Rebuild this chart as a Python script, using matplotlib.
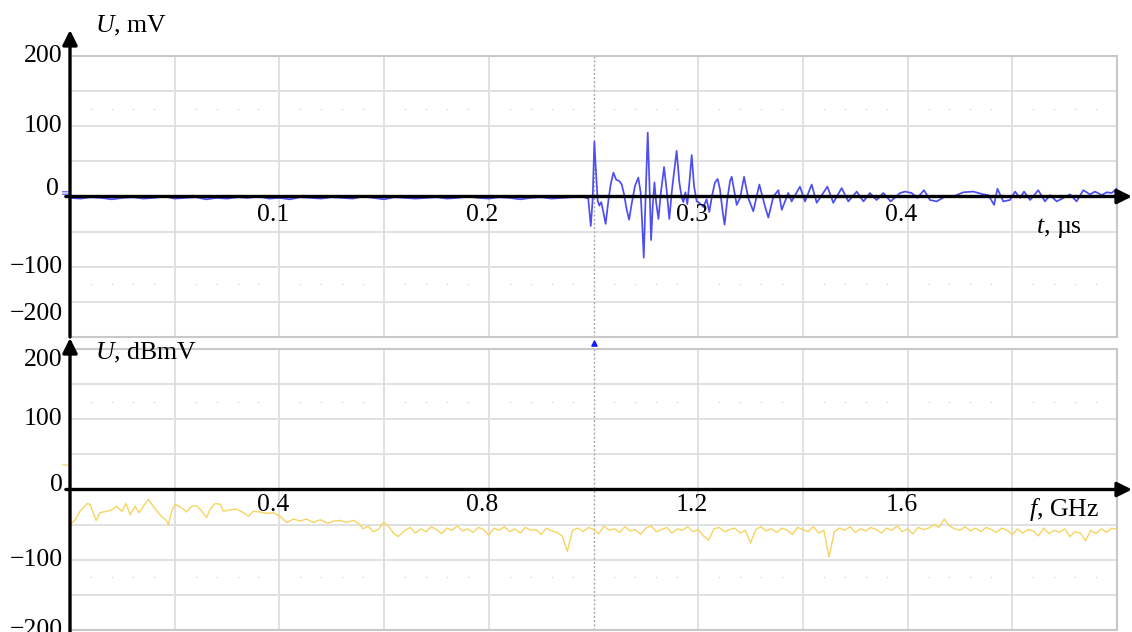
import numpy as np
import matplotlib.pyplot as plt

plt.rcParams['font.family'] = ['Liberation Serif', 'DejaVu Serif']
plt.rcParams['mathtext.fontset'] = 'custom'
plt.rcParams['mathtext.rm'] = 'Liberation Serif'
plt.rcParams['mathtext.it'] = 'Liberation Serif:italic'

# ---- time-domain signal (t in us, U in mV) ----
t_base = np.arange(0, 0.2435, 0.005)
u_base = [-2, -3, -1, -2, -4, -2, -1, -3, -2, 0, -3, -2, -1, -4, -2, -3, -1, -2, 0, -3,
          -2, -4, -1, -2, -3, -1, -2, -3, 0, -2, -4, -1, -2, -3, -2, -1, -3, -2, 0, -2,
          -3, -1, -2, -4, -2, -1, -3, -2, -1]
t_burst = [0.2436, 0.2475, 0.2487, 0.2496, 0.2504, 0.2512, 0.2520, 0.2528, 0.2537, 0.2547,
           0.2558, 0.2571, 0.2582, 0.2595, 0.2608, 0.2623, 0.2635, 0.2646, 0.2658, 0.2670,
           0.2682, 0.2698, 0.2714, 0.2725, 0.2733, 0.2740, 0.2748, 0.2759, 0.2767, 0.2775,
           0.2783, 0.2791, 0.2799, 0.2810, 0.2822, 0.2837, 0.2849, 0.2862, 0.2875, 0.2897,
           0.2910, 0.2921, 0.2929, 0.2939, 0.2948, 0.2958, 0.2969, 0.2980, 0.2993, 0.3005,
           0.3025, 0.3040, 0.3053, 0.3066, 0.3080, 0.3093, 0.3104, 0.3117, 0.3126, 0.3139,
           0.3152]
u_burst = [1, -3, -42, -4, 78, 34, -6, -13, -8, -22,
           -39, -6, 17, 34, 24, 22, 17, 3, -18, -33,
           -11, 15, 27, 6, -41, -87, -8, 91, 20, -62,
           -13, 20, -8, -32, 6, 42, 10, -32, 10, 65,
           20, -1, -8, 6, -11, 20, 59, 15, -7, -9,
           -15, -4, -22, 1, 20, 25, 10, -22, -40, -4,
           22]
t_tail = [0.3160, 0.3184, 0.3200, 0.3219, 0.3239, 0.3263, 0.3292, 0.3319, 0.3335, 0.3359,
          0.3383, 0.3399, 0.3430, 0.3446, 0.3486, 0.3510, 0.3542, 0.3566, 0.3617, 0.3645,
          0.3685, 0.3717, 0.3757, 0.3789, 0.3820, 0.3852, 0.3884, 0.3919, 0.3964, 0.3988,
          0.4019, 0.4047, 0.4078, 0.4107, 0.4139, 0.4179, 0.4218, 0.4266, 0.4314, 0.4362,
          0.4386, 0.4413, 0.4429, 0.4457, 0.4489, 0.4513, 0.4537, 0.4556, 0.4585, 0.4624,
          0.4656, 0.4680, 0.4712, 0.4744, 0.4776, 0.4807, 0.4839, 0.4871, 0.4895, 0.4927,
          0.4951, 0.4975, 0.4998]
u_tail = [28, -12, -2, 28, -2, -21, 17, -14, -30, 0,
          9, -19, 5, -7, 14, -7, 17, -9, 14, -9,
          12, -7, 7, -7, 5, -5, 5, -7, 5, 7,
          5, -2, 9, -5, -7, 0, 0, 6, 7, 3,
          2, -12, 11, -7, -5, 7, -2, 7, -5, 9,
          -7, 2, -7, -2, 3, -7, 9, 3, 7, 2,
          6, 5, 11]
t_sig = np.concatenate([t_base, t_burst, t_tail])
u_sig = np.concatenate([u_base, u_burst, u_tail])

# ---- spectrum (f in GHz, U in dBmV) ----
f_low = [0.003, 0.010, 0.019, 0.033, 0.038, 0.050, 0.057, 0.070, 0.080, 0.089,
         0.099, 0.107, 0.115, 0.124, 0.132, 0.140, 0.150, 0.159, 0.172, 0.185,
         0.188, 0.194, 0.201, 0.213, 0.223, 0.232, 0.242, 0.252, 0.261, 0.267,
         0.277, 0.287, 0.293, 0.306, 0.318, 0.331, 0.341, 0.350, 0.363, 0.376,
         0.388, 0.401, 0.414, 0.427, 0.439, 0.452, 0.465, 0.478, 0.493, 0.503,
         0.516, 0.528, 0.541, 0.551, 0.560, 0.570, 0.579, 0.589, 0.599, 0.608,
         0.618, 0.627]
s_low = [-48, -43, -31, -20, -21, -44, -33, -31, -29, -24,
         -31, -20, -36, -24, -33, -24, -14, -24, -36, -45,
         -50, -31, -21, -26, -32, -24, -23, -31, -40, -29,
         -20, -21, -31, -29, -28, -33, -38, -31, -32, -34,
         -33, -38, -47, -42, -45, -42, -47, -43, -48, -45,
         -44, -47, -44, -48, -56, -52, -60, -57, -47, -52,
         -62, -67]
f_high = np.round(np.arange(0.64, 2.001, 0.01), 2)
s_high = [-58, -54, -62, -56, -60, -53, -57, -63, -55, -58,
          -52, -59, -56, -61, -54, -57, -65, -55, -58, -53,
          -60, -56, -62, -54, -58, -57, -64, -55, -59, -61,
          -66, -88, -58, -55, -60, -54, -57, -63, -52, -58,
          -56, -61, -53, -59, -57, -64, -55, -52, -60, -57,
          -54, -62, -56, -58, -53, -60, -57, -66, -72, -56,
          -54, -60, -57, -55, -62, -58, -76, -57, -53, -59,
          -56, -61, -55, -58, -64, -54, -57, -60, -53, -62,
          -58, -96, -60, -55, -58, -53, -61, -56, -59, -54,
          -57, -62, -55, -58, -52, -60, -56, -63, -54, -57,
          -55, -50, -54, -42, -52, -56, -58, -53, -59, -55,
          -60, -54, -57, -61, -55, -58, -64, -56, -62, -57,
          -59, -66, -55, -63, -58, -61, -56, -67, -60, -62,
          -73, -58, -63, -56, -61, -55, -57]
f_spec = np.concatenate([f_low, f_high])
s_spec = np.concatenate([s_low, s_high])

y_ticks = [200, 100, 0, -100, -200]
y_labels = ['200', '100', '0', '\u2212100', '\u2212200']
t_ticks = [0.1, 0.2, 0.3, 0.4]
f_ticks = [0.4, 0.8, 1.2, 1.6]

W, H = 1132, 632
fig = plt.figure(figsize=(W / 100, H / 100), dpi=100)
ax1 = fig.add_axes([70 / W, 1 - 337 / H, 1047 / W, 281 / H])
ax2 = fig.add_axes([70 / W, 1 - 630 / H, 1047 / W, 281 / H])

fs = 18.5


def scope_grid(ax, xmax):
    ax.set_xlim(0, xmax)
    ax.set_ylim(-200, 200)
    ax.set_xticks([])
    ax.set_yticks([])
    for s in ax.spines.values():
        s.set_color('#c8c8c8')
        s.set_linewidth(1.5)
    div = xmax / 10
    for i in range(1, 10):
        if i == 5:
            ax.axvline(i * div, color='#a8a8a8', lw=1.0, ls=(0, (1.5, 1.5)), zorder=1)
        else:
            ax.axvline(i * div, color='#dedede', lw=1.3, zorder=0)
    for v in [-150, -100, -50, 50, 100, 150]:
        ax.axhline(v, color='#dedede', lw=1.3, zorder=0)
    # dotted sub-division marks
    dx = np.arange(1, 50) * div / 5
    dx = dx[np.arange(1, 50) % 5 != 0]
    for v in [125, -125]:
        ax.scatter(dx, np.full(len(dx), v), s=1.2, color='#d4d4d4', zorder=0, lw=0)


def axis_arrows(ax, top_frac, bottom_frac):
    ap = dict(arrowstyle='-|>', lw=2.4, color='black', mutation_scale=22,
              shrinkA=0, shrinkB=0)
    ax.annotate('', xy=(0, top_frac), xytext=(0, bottom_frac), xycoords='axes fraction',
                textcoords='axes fraction', arrowprops=ap, annotation_clip=False, zorder=6)
    ax.annotate('', xy=(1.0143, 0), xytext=(-0.004, 0),
                xycoords=('axes fraction', 'data'), textcoords=('axes fraction', 'data'),
                arrowprops=ap, annotation_clip=False, zorder=6)


scope_grid(ax1, 0.5)
scope_grid(ax2, 2.0)

ax1.plot(t_sig, u_sig, color='#4e4ef0', lw=1.25, zorder=3)
ax2.plot(f_spec, s_spec, color='#f6d462', lw=1.0, zorder=3)

axis_arrows(ax1, 1.0925, 0.0)
axis_arrows(ax2, 1.039, -0.02)

# trigger marker between panels
ax1.scatter([0.25], [-208], marker='^', s=14, color='#1a1aff', clip_on=False, zorder=7)
# channel markers at left
ax1.text(-0.001, 5, '\u2261', transform=ax1.get_yaxis_transform(), color='#5a5af5',
         fontsize=7, ha='right', va='center', family=['DejaVu Sans'])
ax2.text(-0.001, 33, '~', transform=ax2.get_yaxis_transform(), color='#f0c850',
         fontsize=7, ha='right', va='center', family=['DejaVu Sans'])

# tick labels
for ax, panel in [(ax1, 'top'), (ax2, 'bottom')]:
    tr = ax.get_yaxis_transform()
    for v, lab in zip(y_ticks, y_labels):
        va = 'center'
        y = v
        x = -0.007
        if panel == 'top' and v == 0:
            y = 10
            x = -0.011
        if panel == 'top' and v == -200:
            y = -167
        if panel == 'bottom' and v == 200:
            va = 'top'
        if panel == 'bottom' and v == 0:
            y = 6
        ax.text(x, y, lab, transform=tr, ha='right', va=va, fontsize=fs)

for v in t_ticks:
    ax1.text(v - 0.003, -26, f'{v:.1f}', ha='center', va='center', fontsize=fs)
for v in f_ticks:
    ax2.text(v - 0.012, -22, f'{v:.1f}', ha='center', va='center', fontsize=fs)

ax1.text(0.024, 1.107, '$U$, mV', transform=ax1.transAxes, ha='left', va='center',
         fontsize=fs, clip_on=False)
ax2.text(0.024, 0.985, '$U$, dBmV', transform=ax2.transAxes, ha='left', va='center',
         fontsize=fs)
ax1.text(0.9226, -45, '$t$, \u00b5s', ha='left', va='center', fontsize=fs,
         transform=ax1.get_yaxis_transform())
ax2.text(0.9155, -28, '$f$, GHz', ha='left', va='center', fontsize=fs,
         transform=ax2.get_yaxis_transform())

fig.savefig('out.png', dpi=100)
